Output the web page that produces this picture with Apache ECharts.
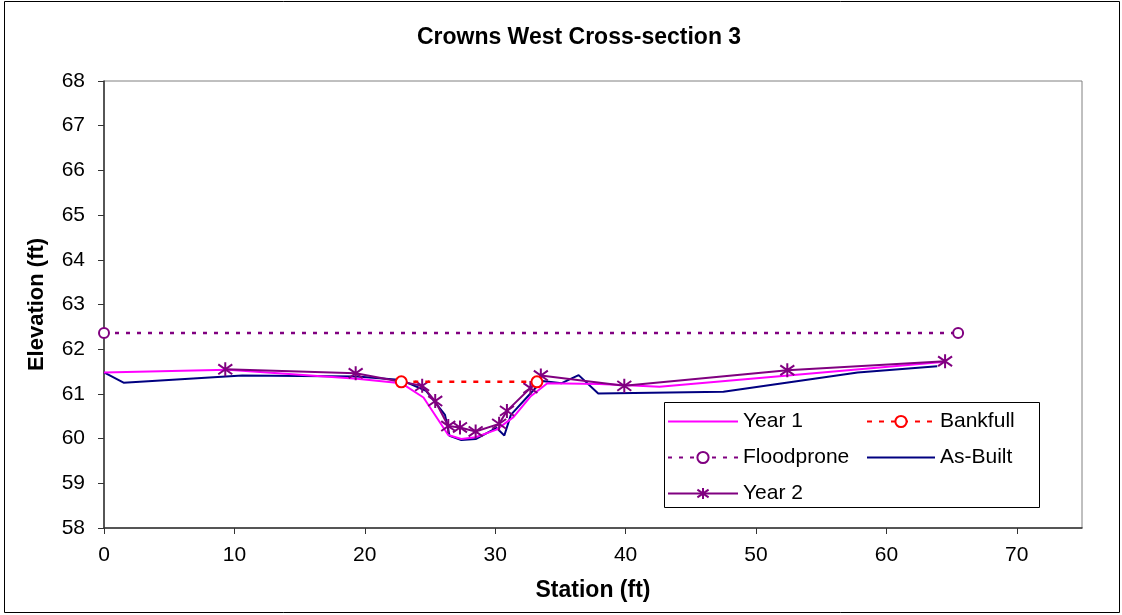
<!DOCTYPE html>
<html>
<head>
<meta charset="utf-8">
<title>Crowns West Cross-section 3</title>
<script src="https://cdn.jsdelivr.net/npm/echarts@6/dist/echarts.min.js"></script>
<style>
  html, body { margin: 0; padding: 0; background: #ffffff; }
  #chart { width: 1122px; height: 615px; }
</style>
</head>
<body>
<div id="chart"></div>
<script>
// Survey data: station (ft) and elevation (ft) for each profile
var year1Station = [0, 9.5, 19.4, 22.8, 24.5, 26.4, 27.4, 28.5, 30.1, 31.4, 32.7, 34.0, 38.0, 42.6, 64.5];
var year1Elev    = [61.48, 61.54, 61.34, 61.24, 60.92, 60.08, 59.99, 60.03, 60.20, 60.48, 60.94, 61.24, 61.22, 61.16, 61.72];

var asBuiltStation = [0, 1.5, 10.6, 19.4, 22.8, 24.7, 26.15, 26.5, 27.4, 28.5, 30.1, 30.7, 31.2, 32.7, 33.6, 35.1, 36.4, 37.9, 47.5, 57.8, 63.9];
var asBuiltElev    = [61.48, 61.25, 61.41, 61.39, 61.31, 61.07, 60.53, 60.06, 59.97, 59.99, 60.24, 60.07, 60.53, 61.01, 61.29, 61.24, 61.42, 61.01, 61.05, 61.48, 61.62];

var year2Station = [9.3, 19.3, 24.4, 25.4, 26.4, 27.3, 28.5, 30.3, 30.9, 32.7, 33.5, 39.9, 52.4, 64.5];
var year2Elev    = [61.55, 61.46, 61.18, 60.84, 60.28, 60.25, 60.16, 60.33, 60.62, 61.13, 61.41, 61.18, 61.53, 61.73];

var bankfullStation = [22.8, 33.2];
var bankfullElev    = [61.27, 61.27];

var floodproneStation = [0, 65.5];
var floodproneElev    = [62.36, 62.36];

var xTicks = [0, 10, 20, 30, 40, 50, 60, 70];
var yTicks = [58, 59, 60, 61, 62, 63, 64, 65, 66, 67, 68];

function pairs(xs, ys) {
  return xs.map(function (x, i) { return [x, ys[i]]; });
}

var FONT = '"Liberation Sans", Arial, sans-serif';
var STAR = 'path://M5 0 L5 10 M0.5 1.5 L9.5 8.5 M0.5 8.5 L9.5 1.5';
var NO_MARKER = { opacity: 0 };

var legendText = { fontFamily: FONT, fontSize: 21, color: '#000', lineHeight: 20 };

var chart = echarts.init(document.getElementById('chart'), null, { renderer: 'canvas' });

var option = {
  backgroundColor: '#ffffff',
  animation: false,
  title: {
    text: 'Crowns West Cross-section 3',
    left: 574,
    top: 21,
    textAlign: 'center',
    textStyle: { fontFamily: FONT, fontSize: 23, fontWeight: 'bold', color: '#000' }
  },
  graphic: [
    {
      type: 'rect',
      shape: { x: 4.5, y: 1.5, width: 1115, height: 611 },
      style: { fill: 'none', stroke: '#000', lineWidth: 1 },
      z: 1
    },
    {
      type: 'rect',
      shape: { x: 664.5, y: 402.5, width: 375, height: 105 },
      style: { fill: '#ffffff', stroke: '#000', lineWidth: 1 },
      z: 5
    }
  ],
  legend: [
    {
      data: [
        { name: 'Year 1', itemStyle: NO_MARKER },
        'Floodprone',
        'Year 2'
      ],
      orient: 'vertical',
      left: 667,
      top: 411,
      padding: 0,
      itemWidth: 70,
      itemHeight: 14,
      itemGap: 15,
      z: 6,
      textStyle: legendText
    },
    {
      data: [
        'Bankfull',
        { name: 'As-Built', itemStyle: NO_MARKER }
      ],
      orient: 'vertical',
      left: 866,
      top: 411,
      padding: 0,
      itemWidth: 68,
      itemHeight: 14,
      itemGap: 15,
      z: 6,
      textStyle: legendText
    }
  ],
  grid: {
    left: 104,
    right: 40,
    top: 81,
    bottom: 87,
    show: true,
    borderColor: '#808080',
    borderWidth: 1,
    backgroundColor: '#ffffff'
  },
  xAxis: {
    type: 'value',
    min: 0,
    max: 75,
    name: 'Station (ft)',
    nameLocation: 'middle',
    nameGap: 51,
    nameTextStyle: { fontFamily: FONT, fontSize: 23, fontWeight: 'bold', color: '#000' },
    axisLine: { show: true, onZero: false, lineStyle: { color: '#333', width: 1.5 } },
    axisTick: { show: true, inside: false, length: 6, customValues: xTicks, lineStyle: { color: '#333' } },
    axisLabel: { customValues: xTicks, margin: 17, fontFamily: FONT, fontSize: 21, color: '#000' },
    splitLine: { show: false }
  },
  yAxis: {
    type: 'value',
    min: 58,
    max: 68,
    interval: 1,
    name: 'Elevation (ft)',
    nameLocation: 'middle',
    nameGap: 56,
    nameTextStyle: { fontFamily: FONT, fontSize: 22, fontWeight: 'bold', color: '#000' },
    axisLine: { show: true, onZero: false, lineStyle: { color: '#333', width: 1.5 } },
    axisTick: { show: true, inside: false, length: 6, customValues: yTicks, lineStyle: { color: '#333' } },
    axisLabel: { customValues: yTicks, margin: 19, fontFamily: FONT, fontSize: 21, color: '#000' },
    splitLine: { show: false }
  },
  series: [
    {
      name: 'As-Built',
      type: 'line',
      data: pairs(asBuiltStation, asBuiltElev),
      symbol: 'none',
      lineStyle: { color: '#000080', width: 2 },
      itemStyle: { color: '#000080' },
      z: 2
    },
    {
      name: 'Year 1',
      type: 'line',
      data: pairs(year1Station, year1Elev),
      symbol: 'none',
      lineStyle: { color: '#ff00ff', width: 2 },
      itemStyle: { color: '#ff00ff' },
      z: 2
    },
    {
      name: 'Year 2',
      type: 'line',
      data: pairs(year2Station, year2Elev),
      symbol: STAR,
      symbolSize: 14,
      showAllSymbol: true,
      lineStyle: { color: '#800080', width: 2 },
      itemStyle: { color: 'rgba(0,0,0,0)', borderColor: '#800080', borderWidth: 2 },
      z: 3
    },
    {
      name: 'Bankfull',
      type: 'line',
      data: pairs(bankfullStation, bankfullElev),
      symbol: 'emptyCircle',
      symbolSize: 11,
      lineStyle: { color: '#ff0000', width: 2.5, type: [5, 7] },
      itemStyle: { color: '#ff0000', borderColor: '#ff0000', borderWidth: 2 },
      z: 4
    },
    {
      name: 'Floodprone',
      type: 'line',
      data: pairs(floodproneStation, floodproneElev),
      symbol: 'emptyCircle',
      symbolSize: 10,
      lineStyle: { color: '#800080', width: 2.5, type: [4, 7] },
      itemStyle: { color: '#800080', borderColor: '#800080', borderWidth: 2 },
      z: 4
    }
  ]
};

chart.setOption(option);
</script>
</body>
</html>
